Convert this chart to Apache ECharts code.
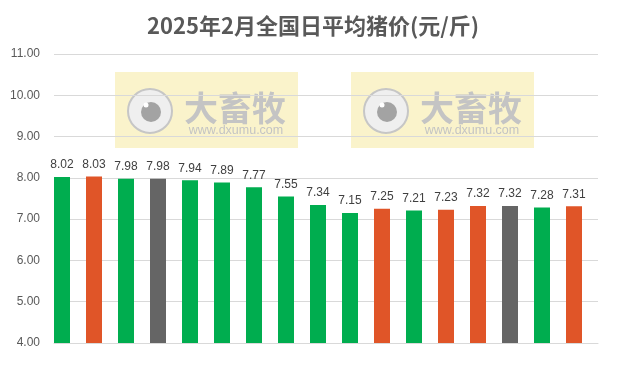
<!DOCTYPE html>
<html>
<head>
<meta charset="utf-8">
<script src="https://cdn.jsdelivr.net/npm/echarts@6/dist/echarts.min.js"></script>
<style>
  html, body { margin: 0; padding: 0; background: #fff; }
  #box { width: 626px; height: 371px; }
</style>
</head>
<body>
<div id="box"></div>
<script>
// 2025年2月 每日全国均价，横轴没有标签，只按顺序排
var days = ['1', '2', '3', '4', '5', '6', '7', '8', '9', '10', '11', '12', '13', '14', '15', '16', '17']
var prices = [8.02, 8.03, 7.98, 7.98, 7.94, 7.89, 7.77, 7.55, 7.34, 7.15, 7.25, 7.21, 7.23, 7.32, 7.32, 7.28, 7.31]
var yTicks = [4, 5, 6, 7, 8, 9, 10, 11]

var GREEN = '#00AD4F'
var ORANGE = '#E05528'
var GREY = '#656565'

// 涨红(橙) 跌绿 平灰，第一天按下跌算
function trendColor(i) {
  if (i === 0) return GREEN
  var d = Math.round((prices[i] - prices[i - 1]) * 100)
  if (d > 0) return ORANGE
  if (d < 0) return GREEN
  return GREY
}

// 水印
function mark(x0) {
  var y0 = 72
  return {
    type: 'group',
    silent: true,
    children: [
      { type: 'rect', shape: { x: x0, y: y0, width: 183, height: 76 }, style: { fill: 'rgba(246,234,160,0.55)' } },
      { type: 'circle', shape: { cx: x0 + 35, cy: y0 + 39, r: 22 }, style: { fill: '#EFEFEF', stroke: '#C6C6C6', lineWidth: 2 } },
      { type: 'circle', shape: { cx: x0 + 36, cy: y0 + 40, r: 10 }, style: { fill: '#A3A3A3' } },
      { type: 'circle', shape: { cx: x0 + 31, cy: y0 + 33, r: 2.5 }, style: { fill: '#fff' } },
      {
        type: 'text', x: x0 + 120, y: y0 + 36,
        style: { text: '大畜牧', fill: '#C4C4C4', font: 'bold 34px "Noto Sans CJK SC"', align: 'center', verticalAlign: 'middle' }
      },
      {
        type: 'text', x: x0 + 121, y: y0 + 59,
        style: { text: 'www.dxumu.com', fill: '#C4C4C4', font: '12.5px "Liberation Sans"', align: 'center', verticalAlign: 'middle' }
      }
    ]
  }
}

var chart = echarts.init(document.getElementById('box'))
var option = {
  animation: false,
  title: {
    text: '2025年2月全国日平均猪价(元/斤)',
    left: 'center',
    top: 10,
    textStyle: {
      color: '#595959',
      fontSize: 22,
      fontWeight: 'bold',
      fontFamily: '"Noto Sans CJK SC"'
    }
  },
  grid: { left: 54, right: 28, top: 54, bottom: 28 },
  graphic: [mark(115), mark(351)],
  xAxis: {
    type: 'category',
    data: days,
    axisTick: { show: false },
    axisLabel: { show: false },
    axisLine: { lineStyle: { color: '#D9D9D9', width: 1 } }
  },
  yAxis: {
    type: 'value',
    min: yTicks[0],
    max: yTicks[yTicks.length - 1],
    interval: 1,
    axisLine: { show: false },
    axisTick: { show: false },
    axisLabel: {
      color: '#595959',
      fontSize: 12,
      fontFamily: '"Liberation Sans"',
      margin: 14,
      formatter: function (v) { return v.toFixed(2) }
    },
    splitLine: { lineStyle: { color: '#D9D9D9' } }
  },
  series: [
    {
      name: '猪价',
      type: 'bar',
      barWidth: 16,
      barGap: '0%',
      z: 3,
      data: prices.map(function (v, i) {
        return { value: v, itemStyle: { color: trendColor(i) } }
      }),
      label: {
        show: true,
        position: 'top',
        distance: 6,
        color: '#404040',
        fontSize: 12,
        fontFamily: '"Liberation Sans"',
        formatter: function (p) { return p.value.toFixed(2) }
      }
    },
    {
      // 占位，让柱子靠在每格左侧
      name: '占位',
      type: 'bar',
      barWidth: 16,
      data: days.map(function () { return null })
    }
  ]
}
chart.setOption(option)
</script>
</body>
</html>
